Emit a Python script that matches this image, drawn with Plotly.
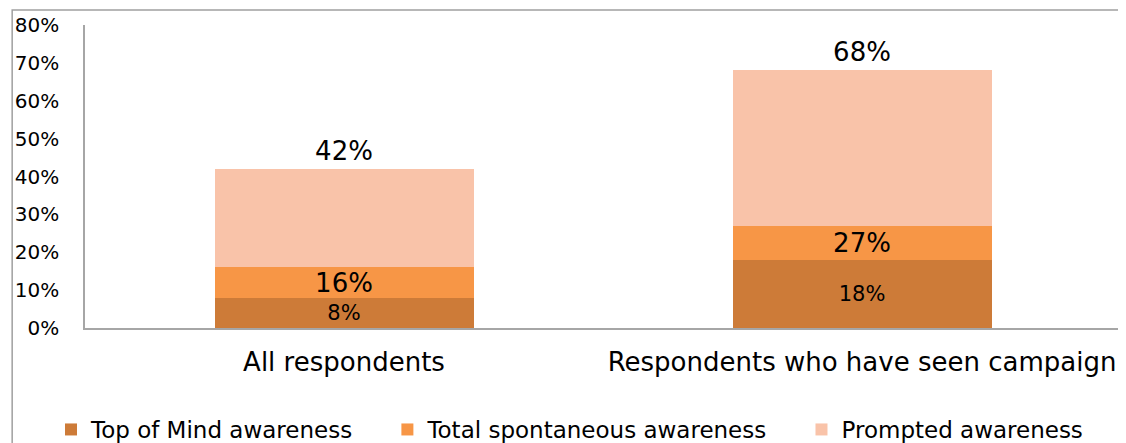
import plotly.graph_objects as go

categories = ["All respondents", "Respondents who have seen campaign"]
top_of_mind = [0.08, 0.18]
total_spontaneous = [0.16, 0.27]
prompted = [0.42, 0.68]
series_names = ["Top of Mind awareness", "Total spontaneous awareness", "Prompted awareness"]
y_ticks = [0, 0.1, 0.2, 0.3, 0.4, 0.5, 0.6, 0.7, 0.8]

FONT = "DejaVu Sans"
c_top = "#CD7B38"
c_spont = "#F79646"
c_prompt = "#F9C3A9"
PAD = "\u00a0" * 4

spont_band = [s - t for s, t in zip(total_spontaneous, top_of_mind)]
prompt_band = [p - s for p, s in zip(prompted, total_spontaneous)]

fig = go.Figure()
fig.add_trace(go.Bar(
    x=categories, y=top_of_mind, name=series_names[0] + PAD, marker_color=c_top,
    text=[f"{v:.0%}" for v in top_of_mind], textposition="inside",
    insidetextanchor="middle", constraintext="none",
    textfont=dict(family=FONT, size=21, color="#000000"), width=0.5,
    marker_line_width=0,
))
fig.add_trace(go.Bar(
    x=categories, y=spont_band, name=series_names[1] + PAD, marker_color=c_spont,
    text=[f"{v:.0%}" for v in total_spontaneous], textposition="inside",
    insidetextanchor="middle", constraintext="none",
    textfont=dict(family=FONT, size=26, color="#000000"), width=0.5,
    marker_line_width=0,
))
fig.add_trace(go.Bar(
    x=categories, y=prompt_band, name=series_names[2], marker_color=c_prompt,
    text=[f"{v:.0%}" for v in prompted], textposition="outside",
    constraintext="none", cliponaxis=False,
    outsidetextfont=dict(family=FONT, size=26, color="#000000"), width=0.5,
    marker_line_width=0,
))

fig.update_layout(
    barmode="stack",
    width=1118, height=435,
    margin=dict(l=77, r=5, t=17, b=115, autoexpand=False),
    paper_bgcolor="white", plot_bgcolor="white",
    font=dict(family=FONT, size=20, color="#000000"),
    showlegend=True,
    legend=dict(orientation="h", x=-0.0328, xanchor="left", y=-0.335, yanchor="middle",
                font=dict(family=FONT, size=23, color="#000000"),
                itemwidth=30, traceorder="normal", bgcolor="rgba(0,0,0,0)"),
    shapes=[dict(type="rect", xref="paper", yref="paper",
                 x0=-0.0703, x1=0.999, y0=-0.6, y1=1.0495,
                 line=dict(color="#A0A0A0", width=1.5), layer="below")],
)
fig.update_xaxes(showline=True, linecolor="#A6A6A6", linewidth=1.5, showgrid=False,
                 ticks="", tickfont=dict(family=FONT, size=26, color="#000000"),
                 ticklabelstandoff=10, automargin=False)
fig.update_yaxes(range=[0, 0.8], tickvals=y_ticks, tickformat=".0%", showgrid=False,
                 showline=True, linecolor="#A6A6A6", linewidth=1.5, zeroline=False,
                 ticks="", ticklabelstandoff=20, automargin=False,
                 tickfont=dict(family=FONT, size=20, color="#000000"))

fig.write_html("out.html")
